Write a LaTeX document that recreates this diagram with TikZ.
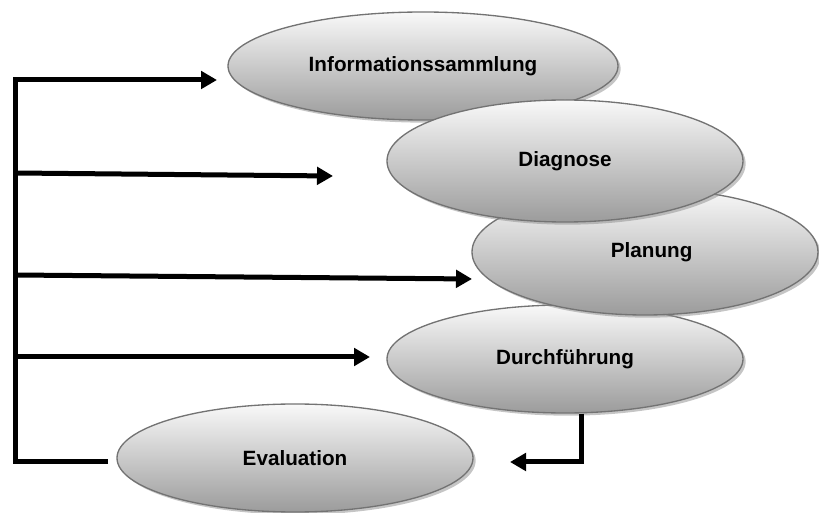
\documentclass[tikz,border=0pt]{standalone}
\usepackage{fontspec}
\setmainfont{Liberation Sans}
\usetikzlibrary{shapes.geometric,shadows,arrows.meta}

\begin{document}
\begin{tikzpicture}[x=0.75pt, y=-0.75pt,
    phase/.style={ellipse, draw=black!55, line width=1pt, inner sep=0pt,
      top color=gray!5, bottom color=gray!78,
      drop shadow={shadow xshift=2pt, shadow yshift=-2pt, fill=black!45},
      font=\bfseries\fontsize{15.5}{18}\selectfont},
    flow/.style={line width=3.75pt},
    tip/.style={-{Triangle[length=12pt,width=13pt]}}]
    \useasboundingbox (0, 0) rectangle (819, 513);
    % phases, back to front
    \node[phase, minimum width=267pt, minimum height=81pt] (durch) at (565, 359) {Durchführung};
    \node[phase, minimum width=259.5pt, minimum height=94.5pt] (plan) at (645, 252) {\hspace{10pt}Planung};
    \node[phase, minimum width=292.5pt, minimum height=81pt] (info) at (423, 66) {Informationssammlung};
    \node[phase, minimum width=267pt, minimum height=91.5pt] (diag) at (565, 161) {Diagnose};
    \node[phase, minimum width=267pt, minimum height=81pt] (eval) at (295, 458) {Evaluation};
    % feedback lines
    \coordinate (evalout) at (108, 462);
    \coordinate (trunk) at (15, 80);
    \coordinate (infoin) at (217, 80);
    \coordinate (diagout) at (15, 173);
    \coordinate (diagin) at (333, 176);
    \coordinate (planout) at (15, 275);
    \coordinate (planin) at (472, 279);
    \coordinate (durchout) at (15, 357);
    \coordinate (durchin) at (370, 357);
    \coordinate (evalin) at (510, 462);
    \draw[flow, tip] (evalout) -| (trunk) -- (infoin);
    \draw[flow, tip] (diagout) -- (diagin);
    \draw[flow, tip] (planout) -- (planin);
    \draw[flow, tip] (durchout) -- (durchin);
    \draw[flow, tip] ([xshift=12pt]durch.south) |- (evalin);
\end{tikzpicture}
\end{document}
